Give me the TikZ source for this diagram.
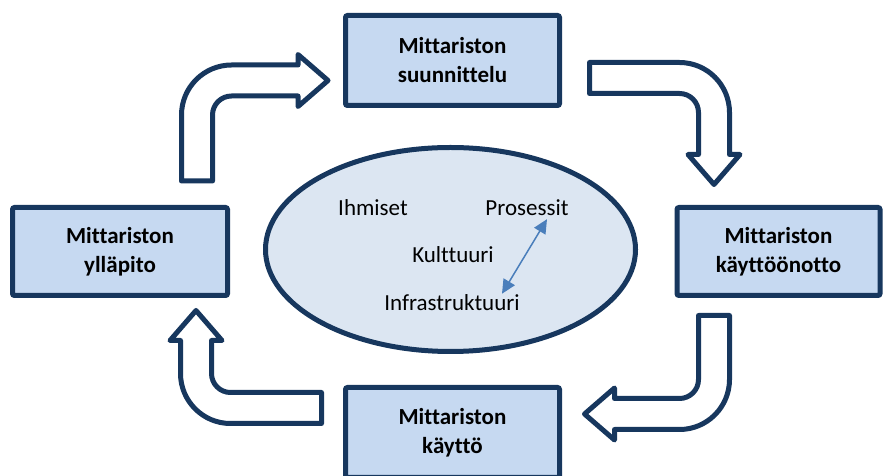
\documentclass[tikz,border=0pt]{standalone}
\usepackage{fontspec}
\setmainfont[Ligatures=NoCommon]{Carlito}
\usepackage{tikz}
\usetikzlibrary{arrows.meta,shapes.geometric}

\definecolor{navy}{HTML}{17375E}
\definecolor{boxblue}{HTML}{C6D9F1}
\definecolor{coreblue}{HTML}{DCE6F2}
\definecolor{linkblue}{HTML}{4A7EBB}

\tikzset{
    stage/.style={draw=navy, line width=5pt, fill=boxblue, rounded corners=2pt,
        minimum width=214pt, minimum height=90pt, inner sep=0pt, align=center,
        font=\bfseries\fontsize{23}{29}\selectfont},
    core/.style={draw=navy, line width=5pt, fill=coreblue, ellipse,
        minimum width=370pt, minimum height=204pt, inner sep=0pt},
    word/.style={font=\fontsize{23}{28}\selectfont, inner sep=1pt},
    bigarrow/.style={draw=navy, line width=5pt, fill=white, line join=round},
    link/.style={draw=linkblue, line width=1.5pt,
        {Triangle[length=14pt,width=13pt]}-{Triangle[length=14pt,width=13pt]}}
}

% bent block arrow: #1 placement, #2 tail leg, #3 head leg
\newcommand{\bentarrow}[3]{%
    \draw[bigarrow,#1] (0,0) -- (0,#2-50)
        arc[start angle=180,end angle=90,radius=50] -- (#3-30,#2)
        -- (#3-30,#2+10.5) -- (#3,#2-15.5) -- (#3-30,#2-41.5) -- (#3-30,#2-31)
        -- (50,#2-31) arc[start angle=90,end angle=180,radius=19]
        -- (31,0) -- cycle;}

\begin{document}
\begin{tikzpicture}[x=1pt,y=1pt]
    \useasboundingbox (0,0) rectangle (883,476);

    \node[core] (core) at (450.5,226.5) {};
    \node[word] (people) at (373,268) {Ihmiset};
    \node[word] (proc) at (527,268) {Prosessit};
    \node[word] (cult) at (453,221) {Kulttuuri};
    \node[word] (infra) at (452,173) {Infrastruktuuri};
    \draw[link] ([xshift=50pt]infra.north) -- ([xshift=20pt,yshift=-2pt]proc.south);

    \node[stage] (plan) at (452.5,415.5) {Mittariston\\suunnittelu};
    \node[stage, minimum width=203pt, minimum height=88pt] (deploy) at (778.5,224.5) {Mittariston\\käyttöönotto};
    \node[stage] (use) at (452.5,43.5) {Mittariston\\käyttö};
    \node[stage, minimum width=215pt, minimum height=88pt] (upkeep) at (120,224.5) {Mittariston\\ylläpito};

    \bentarrow{shift={(181.5,295)}}{116}{146.5}
    \bentarrow{shift={(589.5,413.5)},rotate=-90}{140}{122}
    \bentarrow{shift={(729.5,160.5)},rotate=180}{114}{145}
    \bentarrow{shift={(321.5,52.5)},rotate=90}{141}{113}
\end{tikzpicture}
\end{document}
